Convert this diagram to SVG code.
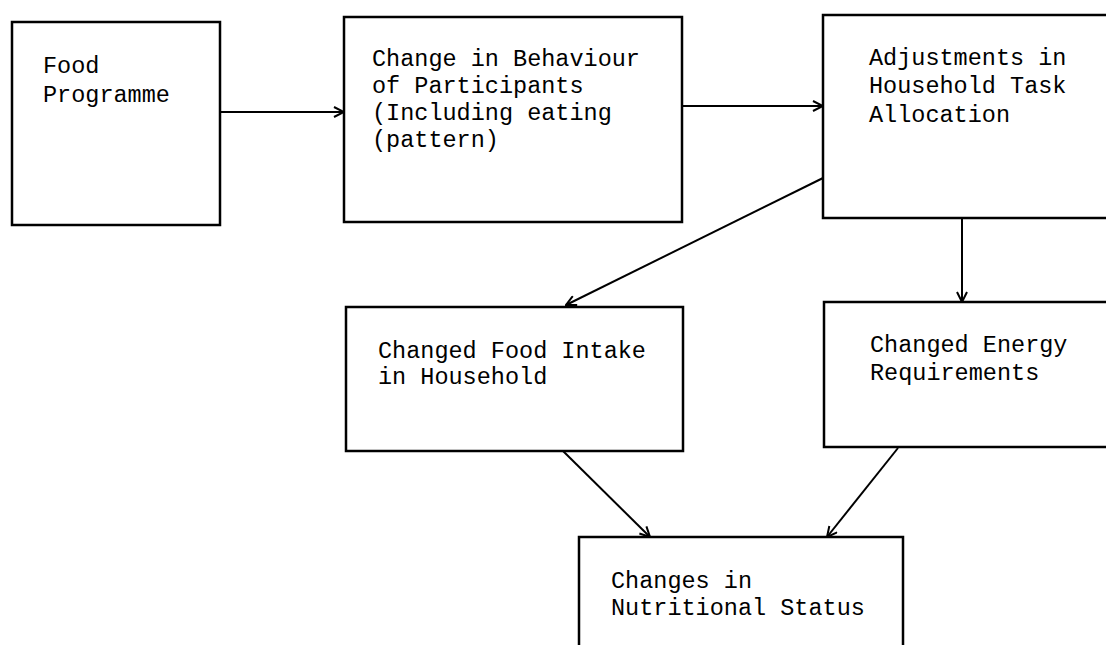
<svg xmlns="http://www.w3.org/2000/svg" width="1106" height="645" viewBox="0 0 1106 645">
<style>
.box{fill:#fff;stroke:#000;stroke-width:2.5}
.t{font-family:"Liberation Mono","DejaVu Sans Mono",monospace;font-size:23.5px;fill:#000}
.c{stroke:#000;stroke-width:2;fill:none}
</style>
<defs>
<marker id="ah" viewBox="0 0 12 12" refX="11" refY="6" markerWidth="12" markerHeight="12" markerUnits="userSpaceOnUse" orient="auto">
<path d="M1,1 L11,6 L1,11" fill="none" stroke="#000" stroke-width="2"/>
</marker>
</defs>
<rect width="1106" height="645" fill="#fff"/>
<g id="connectors">
<line class="c" x1="220" y1="112" x2="344" y2="112" marker-end="url(#ah)"/>
<line class="c" x1="682" y1="106" x2="823" y2="106" marker-end="url(#ah)"/>
<line class="c" x1="823" y1="178" x2="566" y2="305" marker-end="url(#ah)"/>
<line class="c" x1="962" y1="218" x2="962" y2="302" marker-end="url(#ah)"/>
<line class="c" x1="563" y1="451" x2="650" y2="537" marker-end="url(#ah)"/>
<line class="c" x1="898" y1="448" x2="827" y2="537" marker-end="url(#ah)"/>
</g>
<g id="food-programme">
<rect class="box" x="12" y="22" width="208" height="203"/>
<text class="t" x="43" y="73">Food</text>
<text class="t" x="43" y="102">Programme</text>
</g>
<g id="change-behaviour">
<rect class="box" x="344" y="17" width="338" height="205"/>
<text class="t" x="372" y="66">Change in Behaviour</text>
<text class="t" x="372" y="93">of Participants</text>
<text class="t" x="372" y="120">(Including eating</text>
<text class="t" x="372" y="147">(pattern)</text>
</g>
<g id="adjustments">
<rect class="box" x="823" y="15" width="300" height="203"/>
<text class="t" x="869" y="65">Adjustments in</text>
<text class="t" x="869" y="93">Household Task</text>
<text class="t" x="869" y="122">Allocation</text>
</g>
<g id="food-intake">
<rect class="box" x="346" y="307" width="337" height="144"/>
<text class="t" x="378" y="358">Changed Food Intake</text>
<text class="t" x="378" y="384">in Household</text>
</g>
<g id="energy">
<rect class="box" x="824" y="302" width="300" height="145"/>
<text class="t" x="870" y="352">Changed Energy</text>
<text class="t" x="870" y="380">Requirements</text>
</g>
<g id="nutritional-status">
<rect class="box" x="579" y="537" width="324" height="130"/>
<text class="t" x="611" y="588">Changes in</text>
<text class="t" x="611" y="615">Nutritional Status</text>
</g>
</svg>
